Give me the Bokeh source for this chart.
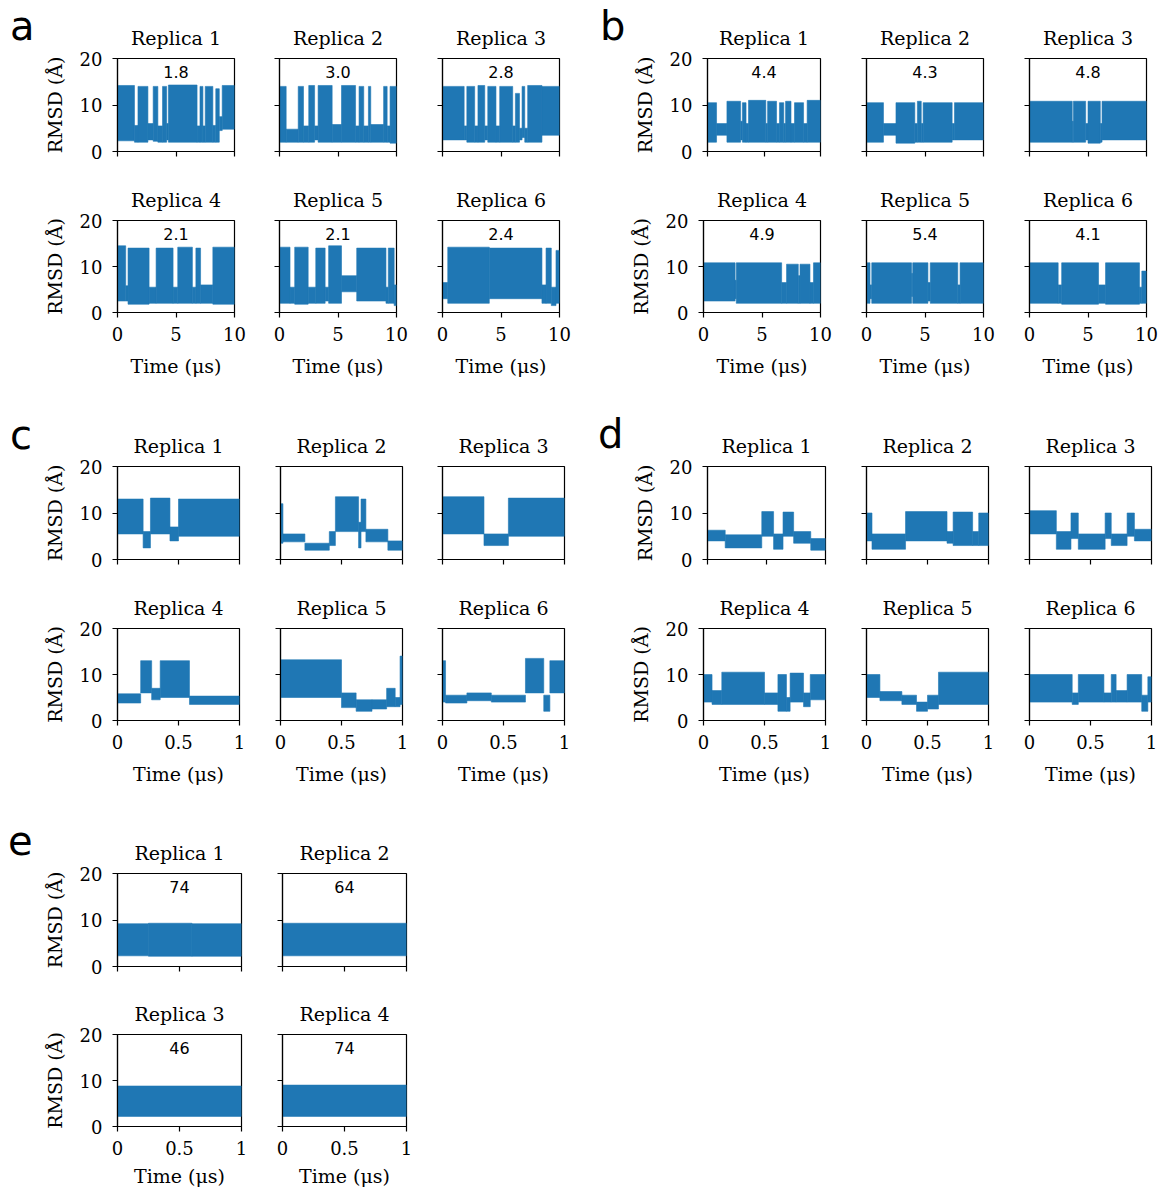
from bokeh.plotting import figure
from bokeh.layouts import row, column
from bokeh.models import FixedTicker, Label, Div
from bokeh.embed import file_html
from bokeh.resources import INLINE

# ---------------- data (segments) ----------------
# Each replica trace: segment edges in time, and the RMSD band (low, high) inside each segment.
A1_T = [0, 1.45, 1.75, 2.6, 3.05, 3.45, 3.85, 4.2, 4.35, 6.8, 7.05, 7.3, 7.5, 8.15, 8.4, 8.7, 8.95, 10]
A1_LO = [2.3, 2.0, 2.0, 2.5, 2.2, 2.0, 2.0, 2.5, 2.0, 2.0, 2.0, 2.0, 2.0, 2.0, 2.0, 4.5, 4.8]
A1_HI = [14.2, 5.6, 14.0, 6.0, 14.0, 5.5, 14.0, 6.0, 14.3, 5.5, 14.0, 5.5, 14.0, 5.6, 13.5, 7.5, 14.2]

A2_T = [0, 0.57, 1.6, 2.05, 2.5, 3.0, 3.3, 4.5, 5.3, 6.5, 6.8, 7.2, 7.6, 7.8, 8.9, 9.2, 9.45, 10]
A2_LO = [2.0, 2.0, 2.0, 2.0, 2.0, 2.5, 2.0, 2.0, 2.0, 2.0, 2.0, 2.0, 2.0, 2.0, 2.0, 2.0, 1.8]
A2_HI = [14.0, 4.8, 14.0, 5.5, 14.2, 5.5, 14.2, 5.8, 14.2, 5.5, 14.0, 5.5, 14.0, 5.8, 14.0, 5.5, 14.0]

A3_T = [0, 1.85, 2.08, 2.75, 3.03, 3.61, 3.87, 4.57, 4.89, 6.0, 6.23, 6.58, 6.8, 7.03, 7.28, 8.5, 10]
A3_LO = [2.5, 2.5, 2.0, 2.0, 2.0, 2.5, 2.0, 2.0, 2.0, 2.0, 2.0, 2.5, 3.0, 2.0, 2.0, 3.5]
A3_HI = [14.0, 5.5, 14.0, 5.5, 14.2, 5.5, 14.0, 5.5, 14.0, 5.5, 12.5, 5.0, 14.0, 5.0, 14.2, 14.0]

A4_T = [0, 0.7, 0.9, 2.7, 3.3, 4.75, 5.15, 6.4, 6.7, 7.1, 8.15, 10]
A4_LO = [2.5, 2.5, 1.8, 2.0, 2.0, 2.0, 2.0, 2.0, 2.0, 2.0, 1.8]
A4_HI = [14.5, 5.8, 14.0, 5.5, 14.0, 5.5, 14.2, 5.5, 14.0, 6.0, 14.2]

A5_T = [0, 0.9, 1.3, 2.45, 3.1, 3.9, 4.2, 5.3, 6.6, 9.1, 9.3, 9.8, 10]
A5_LO = [2.0, 2.0, 1.8, 2.0, 2.0, 2.5, 2.0, 4.5, 2.5, 2.0, 2.0, 1.5]
A5_HI = [14.2, 5.5, 14.2, 5.5, 14.0, 5.5, 14.5, 8.0, 14.0, 5.5, 14.0, 6.0]

A6_T = [0, 0.45, 4.0, 8.5, 8.85, 9.3, 9.7, 10]
A6_LO = [3.0, 2.0, 3.0, 2.0, 2.0, 1.5, 2.0]
A6_HI = [6.5, 14.2, 14.0, 6.0, 14.0, 5.5, 13.5]

B1_T = [0, 0.8, 1.72, 2.93, 3.09, 3.41, 3.63, 5.16, 5.32, 6.11, 6.37, 6.75, 6.91, 7.39, 7.7, 8.5, 8.82, 10]
B1_LO = [2.0, 3.5, 2.0, 2.5, 2.0, 2.0, 2.0, 2.0, 2.0, 2.0, 2.0, 2.0, 2.0, 2.0, 2.0, 2.0, 2.0]
B1_HI = [10.5, 6.0, 10.8, 6.5, 10.5, 6.0, 11.0, 6.0, 10.8, 6.0, 10.5, 6.0, 10.8, 6.0, 10.5, 6.0, 11.0]

B2_T = [0, 1.45, 2.52, 4.13, 4.35, 4.68, 4.84, 7.32, 7.52, 10]
B2_LO = [2.0, 3.5, 1.8, 2.0, 2.0, 2.0, 2.0, 2.5, 2.5]
B2_HI = [10.5, 6.0, 10.5, 6.0, 10.8, 6.0, 10.5, 6.0, 10.5]

B3_T = [0, 3.65, 3.75, 4.8, 5.0, 6.05, 6.2, 10]
B3_LO = [2.0, 2.0, 2.0, 2.5, 1.8, 2.0, 2.5]
B3_HI = [10.8, 6.5, 10.8, 6.0, 10.8, 6.0, 10.8]

B4_T = [0, 2.7, 2.8, 6.68, 7.1, 8.1, 8.25, 9.1, 9.4, 10]
B4_LO = [2.5, 3.0, 2.0, 2.0, 2.0, 2.0, 2.0, 2.0, 2.0]
B4_HI = [10.8, 7.0, 10.8, 6.5, 10.5, 8.0, 10.5, 6.5, 10.8]

B5_T = [0, 0.3, 0.45, 3.85, 3.95, 5.25, 5.45, 7.8, 8.0, 10]
B5_LO = [2.0, 3.0, 2.0, 3.5, 2.0, 2.5, 2.0, 2.0, 2.0]
B5_HI = [10.8, 6.0, 10.8, 8.5, 10.8, 6.5, 10.8, 6.0, 10.8]

B6_T = [0, 2.45, 2.75, 5.9, 6.5, 9.4, 9.6, 10]
B6_LO = [2.0, 2.0, 1.8, 2.0, 1.8, 2.0, 2.0]
B6_HI = [10.8, 6.0, 10.8, 6.0, 10.8, 5.5, 9.0]

C1_T = [0, 0.21, 0.27, 0.43, 0.5, 1]
C1_LO = [5.5, 2.5, 5.5, 4.0, 5.0]
C1_HI = [13.0, 6.0, 13.2, 7.0, 13.0]

C2_T = [0, 0.02, 0.2, 0.4, 0.45, 0.64, 0.66, 0.7, 0.88, 1]
C2_LO = [3.5, 3.8, 2.0, 3.0, 6.0, 2.5, 6.0, 3.8, 2.0]
C2_HI = [12.0, 5.5, 3.5, 6.0, 13.5, 8.0, 13.0, 6.5, 4.0]

C3_T = [0, 0.34, 0.54, 1]
C3_LO = [5.5, 3.0, 5.0]
C3_HI = [13.5, 5.5, 13.2]

C4_T = [0, 0.19, 0.28, 0.35, 0.59, 1]
C4_LO = [3.8, 6.0, 4.5, 5.0, 3.5]
C4_HI = [5.8, 13.0, 7.0, 13.0, 5.3]

C5_T = [0, 0.5, 0.62, 0.75, 0.87, 0.94, 0.98, 1]
C5_LO = [5.0, 2.8, 2.0, 2.5, 3.0, 3.0, 3.5]
C5_HI = [13.2, 6.0, 4.5, 4.5, 7.0, 5.0, 14.0]

C6_T = [0, 0.025, 0.2, 0.4, 0.68, 0.83, 0.88, 1]
C6_LO = [4.0, 3.8, 4.3, 4.0, 6.0, 2.0, 6.0]
C6_HI = [13.0, 5.5, 6.0, 5.5, 13.5, 5.5, 13.0]

D1_T = [0, 0.15, 0.46, 0.56, 0.64, 0.73, 0.875, 1]
D1_LO = [4.0, 2.5, 5.0, 2.2, 5.0, 3.5, 2.0]
D1_HI = [6.3, 5.3, 10.3, 5.5, 10.2, 6.0, 4.5]

D2_T = [0, 0.045, 0.32, 0.66, 0.71, 0.87, 0.92, 1]
D2_LO = [4.0, 2.2, 4.0, 3.5, 3.0, 3.0, 3.0]
D2_HI = [10.0, 5.5, 10.3, 6.0, 10.2, 6.0, 10.0]

D3_T = [0, 0.22, 0.34, 0.4, 0.62, 0.67, 0.8, 0.86, 1]
D3_LO = [5.5, 2.2, 4.5, 2.2, 4.5, 3.0, 5.0, 4.0]
D3_HI = [10.5, 6.0, 10.0, 5.5, 10.0, 5.5, 10.0, 6.5]

D4_T = [0, 0.07, 0.15, 0.5, 0.61, 0.68, 0.71, 0.82, 0.875, 1]
D4_LO = [4.0, 3.5, 3.5, 3.5, 2.0, 2.0, 4.0, 3.0, 4.5]
D4_HI = [10.0, 6.5, 10.5, 6.0, 10.0, 5.0, 10.3, 6.0, 10.0]

D5_T = [0, 0.11, 0.29, 0.41, 0.5, 0.59, 1]
D5_LO = [5.0, 4.3, 3.5, 2.0, 2.5, 3.5]
D5_HI = [10.0, 6.3, 5.5, 4.0, 5.5, 10.5]

D6_T = [0, 0.35, 0.4, 0.61, 0.67, 0.71, 0.8, 0.92, 0.97, 1]
D6_LO = [4.0, 3.5, 4.0, 4.0, 4.0, 4.0, 4.0, 2.0, 4.0]
D6_HI = [10.0, 6.0, 10.0, 6.0, 10.0, 6.5, 10.0, 5.5, 9.5]

E1_T = [0, 0.25, 0.6, 1]
E1_LO = [2.3, 2.2, 2.2]
E1_HI = [9.2, 9.3, 9.2]

E2_T = [0, 1]
E2_LO = [2.3]
E2_HI = [9.3]

E3_T = [0, 1]
E3_LO = [2.2]
E3_HI = [8.8]

E4_T = [0, 1]
E4_LO = [2.2]
E4_HI = [9.0]

A_NUMS = ["1.8", "3.0", "2.8", "2.1", "2.1", "2.4"]
B_NUMS = ["4.4", "4.3", "4.8", "4.9", "5.4", "4.1"]
E_NUMS = ["74", "64", "46", "74"]

LONG_TICKS = [0, 5, 10]
LONG_LABELS = ["0", "5", "10"]
SHORT_TICKS = [0, 0.5, 1]
SHORT_LABELS = ["0", "0.5", "1"]
Y_TICKS = [0, 10, 20]
Y_LABELS = ["0", "10", "20"]

# ---------------- styling ----------------
BLUE = "#1f77b4"
SERIF = "DejaVu Serif"
SANS = "DejaVu Sans"
FRAME_H = 93


def letter_div(letter, w, h, left, top):
    # an HTML strip that holds the panel letter (line box top at `top`, glyph left at `left`)
    html = ('<div style="position:relative; left:%dpx; top:%dpx; font-family:\'DejaVu Sans\'; '
            'font-size:40px; line-height:40px; color:black; margin:0; padding:0;">%s</div>'
            % (left, top, letter))
    return Div(text=html, width=w, height=h, margin=(0, 0, 0, 0))


def panel(t, lo, hi, title, xmax, xticks, xlabs, fw, bl, br, bt, bb,
          first_col, bottom_row, num=None, xlab_standoff=11):
    p = figure(width=bl + fw + br, height=bt + FRAME_H + bb,
               x_range=(0, xmax), y_range=(0, 20),
               output_backend="svg", toolbar_location=None,
               min_border_left=bl, min_border_right=br,
               min_border_top=bt, min_border_bottom=bb, title=title)
    p.quad(left=t[:-1], right=t[1:], bottom=lo, top=hi,
           fill_color=BLUE, line_color=BLUE, line_width=0.6)
    p.background_fill_color = "white"
    p.border_fill_color = "white"
    p.xgrid.visible = False
    p.ygrid.visible = False
    p.outline_line_color = "black"
    p.outline_line_width = 1.2
    p.outline_line_alpha = 1.0

    p.title.text_font = SERIF
    p.title.text_font_size = "19px"
    p.title.text_font_style = "normal"
    p.title.text_color = "black"
    p.title.align = "center"
    p.title.standoff = 19

    xa = p.xaxis[0]
    ya = p.yaxis[0]
    xa.ticker = FixedTicker(ticks=xticks)
    ya.ticker = FixedTicker(ticks=Y_TICKS)
    for ax in (xa, ya):
        ax.axis_line_color = "black"
        ax.axis_line_width = 1.2
        ax.major_tick_line_color = "black"
        ax.major_tick_line_width = 1.2
        ax.major_tick_in = 0
        ax.major_tick_out = 5
        ax.minor_tick_line_color = None
        ax.major_label_text_font = SERIF
        ax.major_label_text_font_size = "18px"
        ax.major_label_text_color = "black"
        ax.axis_label_text_font = SERIF
        ax.axis_label_text_font_size = "19px"
        ax.axis_label_text_font_style = "normal"
        ax.axis_label_text_color = "black"
    xa.major_label_standoff = 9
    ya.major_label_standoff = 10

    if bottom_row:
        xa.major_label_overrides = {k: v for k, v in zip(xticks, xlabs)}
        xa.axis_label = "Time (μs)"
        xa.axis_label_standoff = xlab_standoff
    else:
        xa.major_label_overrides = {k: "" for k in xticks}
        xa.major_label_text_font_size = "0px"
        xa.major_label_standoff = 0

    if first_col:
        ya.major_label_overrides = {k: v for k, v in zip(Y_TICKS, Y_LABELS)}
        ya.axis_label = "RMSD (Å)"
        ya.axis_label_standoff = 11
    else:
        ya.major_label_overrides = {k: "" for k in Y_TICKS}
        ya.major_label_text_font_size = "0px"
        ya.major_label_standoff = 0

    if num is not None:
        p.add_layout(Label(x=xmax / 2, y=17, text=num, text_font=SANS,
                           text_font_size="16px", text_align="center",
                           text_baseline="middle", text_color="black"))
    return p


# horizontal specs: (frame width, left border, right border) for each of the 6 columns
AB_H = [(117, 117, 22), (117, 23, 22), (117, 24, 21),
        (117, 123, 23), (117, 23, 23), (117, 23, 12)]
CD_H = [(122, 117, 19), (122, 22, 18), (122, 22, 16),
        (122, 123, 20), (122, 21, 19), (122, 22, 9)]
E_H = [(124, 117, 19), (124, 22, 14)]
LETTER_W = (40, 50)  # width of the letter strip in front of the left / right group

A_DATA = [(A1_T, A1_LO, A1_HI), (A2_T, A2_LO, A2_HI), (A3_T, A3_LO, A3_HI),
          (A4_T, A4_LO, A4_HI), (A5_T, A5_LO, A5_HI), (A6_T, A6_LO, A6_HI)]
B_DATA = [(B1_T, B1_LO, B1_HI), (B2_T, B2_LO, B2_HI), (B3_T, B3_LO, B3_HI),
          (B4_T, B4_LO, B4_HI), (B5_T, B5_LO, B5_HI), (B6_T, B6_LO, B6_HI)]
C_DATA = [(C1_T, C1_LO, C1_HI), (C2_T, C2_LO, C2_HI), (C3_T, C3_LO, C3_HI),
          (C4_T, C4_LO, C4_HI), (C5_T, C5_LO, C5_HI), (C6_T, C6_LO, C6_HI)]
D_DATA = [(D1_T, D1_LO, D1_HI), (D2_T, D2_LO, D2_HI), (D3_T, D3_LO, D3_HI),
          (D4_T, D4_LO, D4_HI), (D5_T, D5_LO, D5_HI), (D6_T, D6_LO, D6_HI)]
E_DATA = [(E1_T, E1_LO, E1_HI), (E2_T, E2_LO, E2_HI),
          (E3_T, E3_LO, E3_HI), (E4_T, E4_LO, E4_HI)]


def group_row(groups, rep_offset, hspec, xmax, xticks, xlabs, bt, bb, bottom,
              letters=None, letter_pos=None, xlab_standoff=11):
    figs = []
    h = bt + FRAME_H + bb
    for gi, (data, nums) in enumerate(groups):
        for ci in range(3):
            idx = rep_offset + ci
            t, lo, hi = data[idx]
            fw, bl, br = hspec[gi * 3 + ci]
            if letters is not None and ci == 0:
                lw = LETTER_W[gi]
                figs.append(letter_div(letters[gi], lw, h, *letter_pos[gi]))
                bl -= lw
            figs.append(panel(t, lo, hi, "Replica %d" % (idx + 1), xmax, xticks, xlabs,
                              fw, bl, br, bt, bb, ci == 0, bottom,
                              num=None if nums is None else nums[idx],
                              xlab_standoff=xlab_standoff))
    return row(*figs)


r1 = group_row(((A_DATA, A_NUMS), (B_DATA, B_NUMS)), 0, AB_H, 10, LONG_TICKS, LONG_LABELS,
               58, 26, False, ("a", "b"), ((10, 6), (20, 6)))
r2 = group_row(((A_DATA, A_NUMS), (B_DATA, B_NUMS)), 3, AB_H, 10, LONG_TICKS, LONG_LABELS,
               42, 78, True)
r3 = group_row(((C_DATA, None), (D_DATA, None)), 0, CD_H, 1, SHORT_TICKS, SHORT_LABELS,
               76, 26, False, ("c", "d"), ((10, 25), (18, 24)))
r4 = group_row(((C_DATA, None), (D_DATA, None)), 3, CD_H, 1, SHORT_TICKS, SHORT_LABELS,
               42, 77, True)

# group e: 2 x 2
e_top = [letter_div("e", LETTER_W[0], 76 + FRAME_H + 25, 8, 24)]
e_bot = []
for k in range(2):
    fw, bl, br = E_H[k]
    t, lo, hi = E_DATA[k]
    e_top.append(panel(t, lo, hi, "Replica %d" % (k + 1), 1, SHORT_TICKS, SHORT_LABELS,
                       fw, bl - (LETTER_W[0] if k == 0 else 0), br, 76, 25, k == 0, False,
                       num=E_NUMS[k]))
    t, lo, hi = E_DATA[k + 2]
    e_bot.append(panel(t, lo, hi, "Replica %d" % (k + 3), 1, SHORT_TICKS, SHORT_LABELS,
                       fw, bl, br, 42, 64, k == 0, True, num=E_NUMS[k + 2],
                       xlab_standoff=7))
r5 = row(*e_top)
r6 = row(*e_bot)

layout = column(r1, r2, r3, r4, r5, r6)

open("out.html", "w").write(file_html(layout, INLINE))
